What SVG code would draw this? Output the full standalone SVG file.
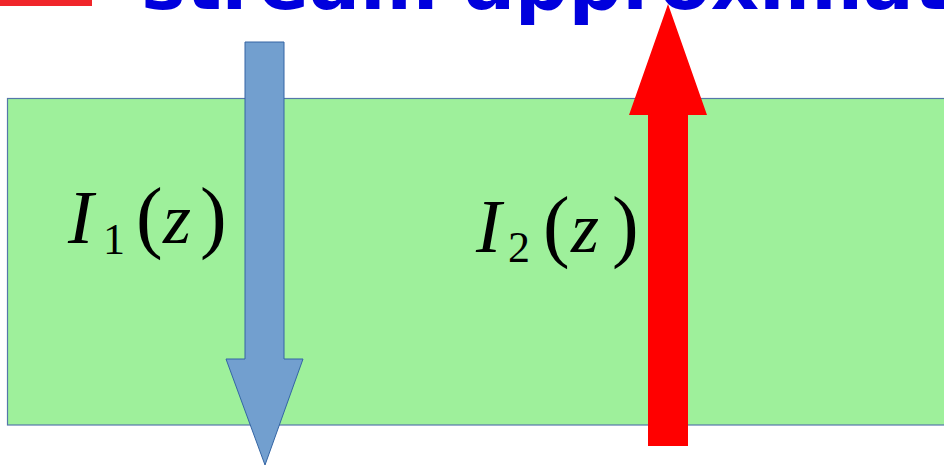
<svg xmlns="http://www.w3.org/2000/svg" width="944" height="467" viewBox="0 0 944 467">
<style>
.title{font-family:"DejaVu Sans",sans-serif;font-weight:bold;font-size:75px;fill:#0000dd}
.mi{font-family:"Liberation Serif","Times New Roman",serif;font-style:italic;fill:#000}
.mr{font-family:"Liberation Serif","Times New Roman",serif;fill:#000}
</style>
<rect width="944" height="467" fill="#ffffff"/>
<g id="title">
<rect x="0" y="0" width="92" height="6" fill="#f0262a"/>
<text class="title" x="141" y="9">stream approximat</text>
</g>
<g id="slab">
<rect x="7.5" y="98.5" width="940" height="326.5" fill="#9ef09b" stroke="#5577aa" stroke-width="1.2"/>
</g>
<g id="connectors">
<polygon id="arrow-down" points="245,42 284,42 284,359 303,359 265,465 226,359 245,359" fill="#729fcf" stroke="#3465a4" stroke-width="1"/>
<polygon id="arrow-up" points="668,4 707,115 688,115 688,446 648,446 648,115 629,115" fill="#ff0000"/>
</g>
<g id="label-I1">
<text class="mi" x="68" y="243" font-size="76">I</text>
<text class="mr" x="103" y="254" font-size="44">1</text>
<text class="mr" x="136" y="243" font-size="80">(</text>
<text class="mi" x="163" y="243" font-size="72">z</text>
<text class="mr" x="200" y="243" font-size="80">)</text>
</g>
<g id="label-I2">
<text class="mi" x="476" y="252" font-size="76">I</text>
<text class="mr" x="508" y="262" font-size="44">2</text>
<text class="mr" x="543" y="252" font-size="80">(</text>
<text class="mi" x="571" y="252" font-size="72">z</text>
<text class="mr" x="612" y="252" font-size="80">)</text>
</g>
</svg>
